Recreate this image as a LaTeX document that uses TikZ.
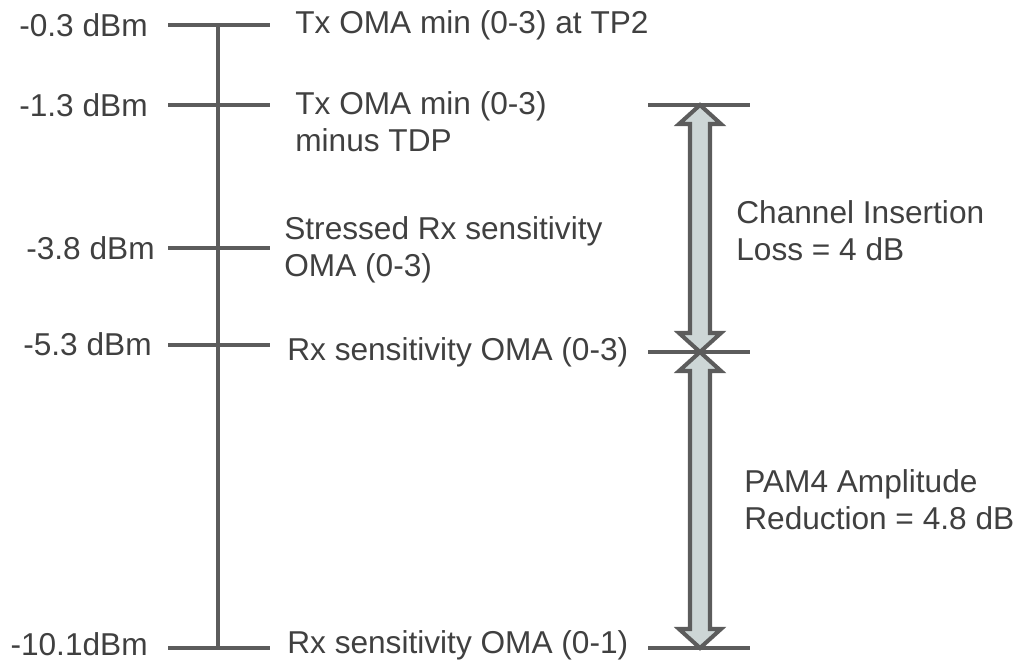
\documentclass[tikz,border=0pt]{standalone}
\usepackage{fontspec}
\setmainfont{Liberation Sans}
\usepackage{xcolor}
\usetikzlibrary{calc}
\definecolor{trait}{RGB}{92,92,92}
\definecolor{texte}{RGB}{64,64,64}
\definecolor{remplir}{RGB}{205,214,214}
\newcommand{\flechebloc}[2]{%
  \draw[bloc] (#1) -- ($(#1)+(21,19)$) -- ($(#1)+(10,19)$) -- ($(#2)+(10,-19)$) -- ($(#2)+(21,-19)$)
    -- (#2) -- ($(#2)+(-21,-19)$) -- ($(#2)+(-10,-19)$) -- ($(#1)+(-10,19)$) -- ($(#1)+(-21,19)$) -- cycle;}

\begin{document}
\begin{tikzpicture}[x=0.02cm, y=-0.02cm, font=\fontsize{18}{21}\selectfont, text=texte,
  ligne/.style={draw=trait, line width=2.1pt},
  valeur/.style={anchor=east, inner sep=0pt},
  legende/.style={anchor=west, align=left, inner sep=0pt},
  bloc/.style={draw=trait, fill=remplir, line width=2.3pt, line join=miter}]
\useasboundingbox (0,0) rectangle (1018,667);
% axe et graduations
\coordinate (haut) at (218,25); \coordinate (bas) at (218,648);
\draw[ligne] (haut) -- (bas);
\foreach \y [count=\i] in {25,105,248,345,648} {
  \coordinate (g\i) at (168,\y); \coordinate (d\i) at (270,\y);
  \draw[ligne] (g\i) -- (d\i);
}
\node[valeur] (v1) at (148,25) {-0.3 dBm};
\node[valeur] (v2) at (148,105) {-1.3 dBm};
\node[valeur] (v3) at (155,248) {-3.8 dBm};
\node[valeur] (v4) at (152,344) {-5.3 dBm};
\node[valeur] (v5) at (148,644) {-10.1dBm};
\node[legende] (t1) at (295,25) {Tx OMA min (0-3) at TP2};
\node[legende] (t2) at (295,122) {Tx OMA min (0-3)\\minus TDP};
\node[legende] (t3) at (284,250) {Stressed Rx sensitivity\\OMA (0-3)};
\node[legende] (t4) at (287,352) {Rx sensitivity OMA (0-3)};
\node[legende] (t5) at (287,645) {Rx sensitivity OMA (0-1)};
% fleches et bornes
\coordinate (f1) at (700,105); \coordinate (f2) at (700,352); \coordinate (f3) at (700,648);
\flechebloc{f1}{f2}
\flechebloc{f2}{f3}
\foreach \i in {1,2,3} \draw[ligne] ($(f\i)+(-52,0)$) -- ($(f\i)+(50,0)$);
\node[legende] (c1) at (736,231) {Channel Insertion\\Loss = 4 dB};
\node[legende] (c2) at (744,500) {PAM4 Amplitude\\Reduction = 4.8 dB};
\end{tikzpicture}
\end{document}
